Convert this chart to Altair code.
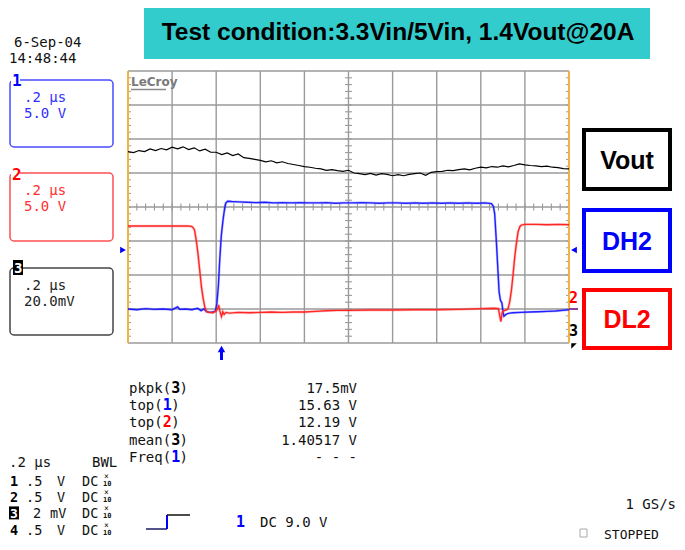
import altair as alt
import pandas as pd

MONO = "DejaVu Sans Mono"
SANS = "Liberation Sans, Arial, sans-serif"

W, H = 441, 272          # scope screen (10 x 8 divisions)
OX, OY = 128, 71         # page position of screen's top-left corner

# ---------------- data ----------------
# horizontal: time in microseconds (0.2 us/div); vertical: screen divisions
GRID_T = [-1.0, -0.8, -0.6, -0.4, -0.2, 0.0, 0.2, 0.4, 0.6, 0.8, 1.0]
GRID_V = [-4, -3, -2, -1, 0, 1, 2, 3, 4]

T_VOUT = [-1.0, -0.975, -0.95, -0.925, -0.9, -0.875, -0.85, -0.825, -0.8, -0.775,
          -0.75, -0.725, -0.7, -0.675, -0.65, -0.625, -0.6, -0.575, -0.55, -0.525,
          -0.5, -0.475, -0.45, -0.425, -0.4, -0.375, -0.35, -0.325, -0.3, -0.275,
          -0.25, -0.225, -0.2, -0.175, -0.15, -0.125, -0.1, -0.075, -0.05, -0.025,
          0.0, 0.025, 0.05, 0.075, 0.1, 0.125, 0.15, 0.175, 0.2, 0.225,
          0.25, 0.275, 0.3, 0.325, 0.35, 0.375, 0.4, 0.425, 0.45, 0.475,
          0.5, 0.525, 0.55, 0.575, 0.6, 0.625, 0.65, 0.675, 0.7, 0.725,
          0.75, 0.775, 0.8, 0.825, 0.85, 0.875, 0.9, 0.925, 0.95, 0.975, 1.0]
V_VOUT = [1.63, 1.60, 1.66, 1.63, 1.71, 1.66, 1.72, 1.68, 1.76, 1.71,
          1.77, 1.69, 1.74, 1.65, 1.70, 1.61, 1.61, 1.54, 1.59, 1.51,
          1.56, 1.45, 1.43, 1.40, 1.37, 1.33, 1.36, 1.30, 1.33, 1.28,
          1.25, 1.22, 1.19, 1.17, 1.14, 1.12, 1.08, 1.10, 1.07, 1.05,
          1.08, 1.00, 0.98, 0.95, 0.99, 0.94, 0.98, 0.96, 0.92, 0.95,
          0.92, 0.96, 0.98, 1.00, 0.93, 1.02, 1.04, 1.05, 1.08, 1.07,
          1.10, 1.12, 1.09, 1.14, 1.17, 1.15, 1.19, 1.17, 1.21, 1.18,
          1.22, 1.27, 1.24, 1.22, 1.21, 1.19, 1.20, 1.17, 1.16, 1.13, 1.12]

T_DH2 = [-1.0, -0.96, -0.92, -0.88, -0.84, -0.8, -0.775, -0.765, -0.74, -0.71,
         -0.685, -0.668, -0.655, -0.645, -0.63, -0.615, -0.604, -0.597, -0.59, -0.584,
         -0.577, -0.569, -0.562, -0.556, -0.548, -0.53, -0.5, -0.46, -0.42, -0.38,
         -0.34, -0.3, -0.26, -0.22, -0.18, -0.14, -0.1, -0.06, -0.02, 0.02,
         0.06, 0.1, 0.14, 0.18, 0.22, 0.26, 0.3, 0.34, 0.38, 0.42,
         0.46, 0.5, 0.54, 0.58, 0.62, 0.648, 0.657, 0.663, 0.671, 0.678,
         0.683, 0.689, 0.696, 0.701, 0.705, 0.716, 0.73, 0.746, 0.78, 0.82,
         0.86, 0.9, 0.94, 0.97, 1.0]
V_DH2 = [-3.00, -3.02, -2.99, -3.01, -3.00, -3.02, -2.94, -3.01, -3.00, -3.02,
         -2.98, -3.05, -3.00, -3.07, -3.10, -3.09, -3.06, -2.85, -2.30, -1.56,
         -0.85, -0.38, -0.05, 0.12, 0.17, 0.16, 0.15, 0.14, 0.13, 0.14,
         0.12, 0.13, 0.12, 0.13, 0.12, 0.12, 0.13, 0.11, 0.12, 0.12,
         0.13, 0.12, 0.11, 0.12, 0.12, 0.11, 0.12, 0.11, 0.12, 0.11,
         0.12, 0.11, 0.12, 0.11, 0.12, 0.10, 0.02, -0.20, -1.06, -1.90,
         -2.50, -2.74, -2.83, -3.10, -3.21, -3.15, -3.12, -3.11, -3.10, -3.09,
         -3.08, -3.07, -3.06, -3.04, -3.02]

T_DL2 = [-1.0, -0.9, -0.8, -0.73, -0.712, -0.705, -0.698, -0.69, -0.683, -0.675,
         -0.667, -0.659, -0.652, -0.644, -0.63, -0.615, -0.599, -0.593, -0.589, -0.584,
         -0.576, -0.57, -0.564, -0.556, -0.54, -0.5, -0.45, -0.4, -0.35, -0.3,
         -0.25, -0.2, -0.15, -0.1, -0.05, 0.0, 0.1, 0.2, 0.3, 0.4,
         0.5, 0.6, 0.66, 0.68, 0.686, 0.691, 0.697, 0.705, 0.715, 0.723,
         0.731, 0.739, 0.747, 0.754, 0.762, 0.769, 0.777, 0.784, 0.8, 0.85,
         0.9, 0.95, 1.0]
V_DL2 = [-0.56, -0.56, -0.56, -0.56, -0.57, -0.60, -0.68, -1.00, -1.35, -1.85,
         -2.34, -2.70, -2.93, -3.08, -3.10, -3.11, -3.05, -2.98, -2.88, -3.05,
         -3.22, -3.08, -3.16, -3.10, -3.12, -3.10, -3.11, -3.10, -3.09, -3.10,
         -3.09, -3.09, -3.07, -3.05, -3.04, -3.04, -3.03, -3.03, -3.02, -3.02,
         -3.01, -2.99, -2.98, -2.99, -3.20, -3.37, -3.10, -3.05, -3.03, -3.00,
         -2.80, -2.44, -1.95, -1.46, -1.05, -0.73, -0.58, -0.53, -0.51, -0.51,
         -0.52, -0.51, -0.52]

TITLE = "Test condition:3.3Vin/5Vin, 1.4Vout@20A"
MEAS_LABELS = [("pkpk(", "3", "#000000"), ("top(", "1", "#0000ff"),
               ("top(", "2", "#ff0000"), ("mean(", "3", "#000000"),
               ("Freq(", "1", "#0000ff")]
MEAS_VALUES = ["17.5mV", "15.63 V", "12.19 V", "1.40517 V", "- - -"]
CH_ROWS = [("1", ".5", "V"), ("2", ".5", "V"), ("3", "2", "mV"), ("4", ".5", "V")]

MINOR_T = [round(-1 + 0.04 * k, 3) for k in range(1, 50)]
MINOR_V = [round(-4 + 0.2 * k, 2) for k in range(1, 40)]

GRID_C = "#9a9a9a"
ORANGE = "#f3b245"
BLUE = "#1f1fff"
RED = "#ff2626"

xs = alt.Scale(domain=[-1, 1], nice=False, zero=False)
ys = alt.Scale(domain=[-4, 4], nice=False, zero=False)
ONE = pd.DataFrame({"k": [0]})
CW = 0.602 * 14  # monospace advance at 14px


def T(s, x, y, size=14, color="#111111", weight="normal", font=MONO,
      align="left", baseline="alphabetic"):
    return alt.Chart(ONE).mark_text(
        text=s, fontSize=size, color=color, fontWeight=weight, font=font,
        align=align, baseline=baseline
    ).encode(x=alt.value(x - OX), y=alt.value(y - OY))


def R(x1, y1, x2, y2, fill="white", stroke=None, sw=0, radius=0):
    kw = dict(fill=fill, cornerRadius=radius)
    if stroke is not None:
        kw.update(stroke=stroke, strokeWidth=sw)
    else:
        kw.update(strokeWidth=0)
    return alt.Chart(ONE).mark_rect(**kw).encode(
        x=alt.value(x1 - OX), x2=alt.value(x2 - OX),
        y=alt.value(y1 - OY), y2=alt.value(y2 - OY))


def L(x1, y1, x2, y2, color, sw=1.0):
    return alt.Chart(ONE).mark_rule(color=color, strokeWidth=sw).encode(
        x=alt.value(x1 - OX), x2=alt.value(x2 - OX),
        y=alt.value(y1 - OY), y2=alt.value(y2 - OY))


def P(x, y, shape, color, size):
    return alt.Chart(ONE).mark_point(shape=shape, filled=True, color=color,
                                     size=size, opacity=1, strokeWidth=0).encode(
        x=alt.value(x - OX), y=alt.value(y - OY))


layers = []

# title banner
layers.append(R(144, 2, 650, 59, fill="#33cccc"))
layers.append(T(TITLE, 398, 33, size=24.5, color="#000000", weight="bold",
                font=SANS, align="center", baseline="middle"))

# right legend boxes
for (y1, y2, col, lab) in [(128, 191, "#000000", "Vout"),
                           (208, 273, "#0000ff", "DH2"),
                           (288, 350, "#ff0000", "DL2")]:
    layers.append(R(584, y1 + 2, 670, y2 - 2, fill="white", stroke=col, sw=4))
    layers.append(T(lab, 627, (y1 + y2) / 2 + 1, size=25, color=col, weight="bold",
                    font=SANS, align="center", baseline="middle"))

# left channel boxes
layers.append(T("6-Sep-04", 14, 47))
layers.append(T("14:48:44", 9, 63))
for (y1, y2, col, tcol, l1, l2) in [(80, 147, "#4a4aff", "#3030ff", ".2 \u00b5s", "5.0 V"),
                                   (173, 241, "#ff5050", "#ff3030", ".2 \u00b5s", "5.0 V"),
                                   (268, 335, "#444444", "#222222", ".2 \u00b5s", "20.0mV")]:
    layers.append(R(10, y1, 113, y2, fill="white", stroke=col, sw=1.5, radius=4))
    layers.append(T(l1, 24, y1 + 22, color=tcol))
    layers.append(T(l2, 24, y1 + 38, color=tcol))
layers.append(R(11, 73, 20, 86, fill="white"))
layers.append(T("1", 12, 86, size=16, color="#0000ff", weight="bold"))
layers.append(R(11, 166, 20, 180, fill="white"))
layers.append(T("2", 12, 180, size=16, color="#ff0000", weight="bold"))
layers.append(R(13, 260, 23, 275, fill="#000000"))
layers.append(T("3", 14, 273, size=14, color="#ffffff", weight="bold"))

# grid
layers.append(alt.Chart(pd.DataFrame({"t": GRID_T[1:-1]})).mark_rule(
    color=GRID_C, strokeWidth=1.4).encode(
    x=alt.X("t:Q", scale=xs, axis=None), y=alt.value(0), y2=alt.value(H)))
layers.append(alt.Chart(pd.DataFrame({"v": GRID_V})).mark_rule(
    color=GRID_C, strokeWidth=1.4).encode(
    y=alt.Y("v:Q", scale=ys, axis=None), x=alt.value(0), x2=alt.value(W)))
layers.append(alt.Chart(pd.DataFrame({"v": MINOR_V})).mark_rule(
    color=GRID_C, strokeWidth=1.1).encode(
    y=alt.Y("v:Q", scale=ys, axis=None), x=alt.value(W / 2 - 3.5), x2=alt.value(W / 2 + 3.5)))
layers.append(alt.Chart(pd.DataFrame({"t": MINOR_T})).mark_rule(
    color=GRID_C, strokeWidth=1.1).encode(
    x=alt.X("t:Q", scale=xs, axis=None), y=alt.value(H / 2 - 3.5), y2=alt.value(H / 2 + 3.5)))
layers.append(alt.Chart(pd.DataFrame({"v": MINOR_V})).mark_rule(
    color=GRID_C, strokeWidth=1).encode(
    y=alt.Y("v:Q", scale=ys, axis=None), x=alt.value(0), x2=alt.value(3)))
layers.append(alt.Chart(pd.DataFrame({"v": MINOR_V})).mark_rule(
    color=GRID_C, strokeWidth=1).encode(
    y=alt.Y("v:Q", scale=ys, axis=None), x=alt.value(W - 3), x2=alt.value(W)))
layers.append(alt.Chart(pd.DataFrame({"t": [GRID_T[0], GRID_T[-1]]})).mark_rule(
    color=ORANGE, strokeWidth=2).encode(
    x=alt.X("t:Q", scale=xs, axis=None), y=alt.value(0), y2=alt.value(H)))

# LeCroy logo
layers.append(T("LeCroy", 131, 86, size=12, color="#7a7a7a", weight="bold",
                font="DejaVu Sans"))
layers.append(L(131, 89.5, 166, 89.5, "#8a8a8a", 1.5))

# traces
vout = pd.DataFrame({"t": T_VOUT, "v": V_VOUT})
dh2 = pd.DataFrame({"t": T_DH2, "v": V_DH2})
dl2 = pd.DataFrame({"t": T_DL2, "v": V_DL2})
enc = dict(x=alt.X("t:Q", scale=xs, axis=None), y=alt.Y("v:Q", scale=ys, axis=None))
layers.append(alt.Chart(vout).mark_line(color="#000000", strokeWidth=1.2).encode(**enc))
layers.append(alt.Chart(dh2).mark_line(color=BLUE, strokeWidth=2.6, opacity=0.25).encode(**enc))
layers.append(alt.Chart(dh2).mark_line(color=BLUE, strokeWidth=1.4).encode(**enc))
layers.append(alt.Chart(dl2).mark_line(color=RED, strokeWidth=2.8, opacity=0.25).encode(**enc))
layers.append(alt.Chart(dl2).mark_line(color=RED, strokeWidth=1.4).encode(**enc))

# screen markers
layers.append(P(123, 250, "triangle-right", "#0000ff", 45))
layers.append(P(574, 250, "triangle-left", "#0000ff", 45))
layers.append(L(221.5, 349, 221.5, 360, "#0000ff", 3))
layers.append(P(221.5, 349, "triangle-up", "#0000ff", 55))
layers.append(T("2", 569, 303, size=15, color="#ff0000", weight="bold"))
layers.append(L(569, 309, 578, 309, "#8a3fa0", 2))
layers.append(T("3", 569, 336, size=15, color="#000000", weight="bold"))
layers.append(P(574, 346, "M-1,-1L1,-1L-1,1Z", "#000000", 30))

# measurements
for i, ((pre, num, col), val) in enumerate(zip(MEAS_LABELS, MEAS_VALUES)):
    yb = 393 + i * 17.2
    layers.append(T(pre, 129, yb))
    layers.append(T(num, 129 + len(pre) * CW, yb, size=15, color=col, weight="bold"))
    layers.append(T(")", 129 + (len(pre) + 1) * CW, yb))
    layers.append(T(val, 357, yb, align="right"))

# channel settings
layers.append(T(".2 \u00b5s", 9, 467))
layers.append(T("BWL", 92, 467))
for i, (num, val, unit) in enumerate(CH_ROWS):
    yb = 486 + i * 16.2
    if num == "3":
        layers.append(R(9, yb - 12, 19, yb + 1, fill="#000000"))
        layers.append(T(num, 10, yb, size=13, color="#ffffff", weight="bold"))
    else:
        layers.append(T(num, 10, yb, size=13.5, weight="bold", color="#000000"))
    layers.append(T(val, 33 if val == "2" else 26, yb, size=13.5))
    layers.append(T(unit, 50 if unit == "mV" else 57, yb, size=13.5))
    layers.append(T("DC", 82, yb, size=13.5))
    layers.append(T("\u00d7", 104, yb - 7, size=8))
    layers.append(T("10", 103, yb, size=7, weight="bold"))

# trigger
layers.append(L(146, 529, 167, 529, "#1a1a66", 1.5))
layers.append(L(167, 515, 167, 529, "#0000ff", 2))
layers.append(L(167, 515, 190, 515, "#111111", 1.5))
layers.append(T("1", 236, 527, size=15, color="#0000ff", weight="bold"))
layers.append(T("DC 9.0 V", 260, 527))
layers.append(T("1 GS/s", 676, 509, align="right"))
layers.append(R(580, 529, 587, 537, fill="white", stroke="#aaaaaa", sw=1))
layers.append(T("STOPPED", 604, 539, size=13))

chart = alt.layer(*layers).properties(
    width=W, height=H,
    padding={"left": OX - 8, "top": OY - 8, "right": 669 - (OX - 8) - W,
             "bottom": 534 - (OY - 8) - H},
    autosize=alt.AutoSizeParams(type="none"),
    background="white",
).configure_view(stroke=None)

chart.save("out.html", embed_options={"renderer": "svg", "actions": False})
